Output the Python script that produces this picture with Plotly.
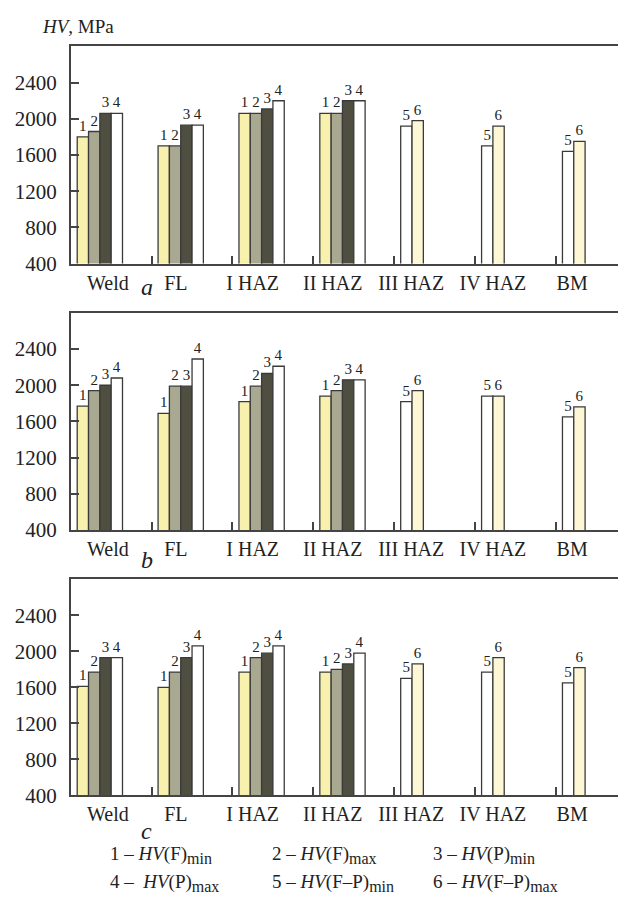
import plotly.graph_objects as go

CATEGORIES = ["Weld", "FL", "I HAZ", "II HAZ", "III HAZ", "IV HAZ", "BM"]
SERIES_NAMES = ["1", "2", "3", "4", "5", "6"]
N = None

# panel a
A1 = [1800, 1700, 2060, 2060, N, N, N]
A2 = [1860, 1700, 2060, 2060, N, N, N]
A3 = [2060, 1930, 2110, 2200, N, N, N]
A4 = [2060, 1930, 2200, 2200, N, N, N]
A5 = [N, N, N, N, 1920, 1700, 1640]
A6 = [N, N, N, N, 1980, 1920, 1750]
# panel b
B1 = [1770, 1690, 1820, 1880, N, N, N]
B2 = [1940, 1990, 1990, 1940, N, N, N]
B3 = [2000, 1990, 2130, 2060, N, N, N]
B4 = [2080, 2290, 2210, 2060, N, N, N]
B5 = [N, N, N, N, 1820, 1880, 1650]
B6 = [N, N, N, N, 1940, 1880, 1760]
# panel c
C1 = [1610, 1600, 1770, 1770, N, N, N]
C2 = [1770, 1770, 1930, 1800, N, N, N]
C3 = [1930, 1930, 1980, 1860, N, N, N]
C4 = [1930, 2060, 2060, 1980, N, N, N]
C5 = [N, N, N, N, 1700, 1770, 1650]
C6 = [N, N, N, N, 1860, 1930, 1820]

Y_TICKS = [400, 800, 1200, 1600, 2000, 2400]
PANELS = [("a", [A1, A2, A3, A4, A5, A6]),
          ("b", [B1, B2, B3, B4, B5, B6]),
          ("c", [C1, C2, C3, C4, C5, C6])]

COLORS = ["#F8F1AE", "#A9A991", "#4F4F41", "#FFFFFF", "#FFFFFF", "#FDF7D6"]
BAR_W = 0.14
OFFSETS = [-0.28, -0.14, 0.0, 0.14, -0.28, -0.14]
LABEL_POS = [0.1, 0.94, 1.89, 2.88, 3.85, 4.86, 5.84]

W, H = 626, 903
panel_px = [(39, 259), (309, 529), (579, 798)]
letter_y = [283, 559, 834]

fig = go.Figure()
serif = "Liberation Serif, Times New Roman, serif"

for p, (letter, series) in enumerate(PANELS):
    xa = "x" if p == 0 else f"x{p+1}"
    ya = "y" if p == 0 else f"y{p+1}"
    for s, vals in enumerate(series):
        xs = [i for i, v in enumerate(vals) if v is not None]
        ys = [v for v in vals if v is not None]
        fig.add_trace(go.Bar(
            x=xs, y=ys, xaxis=xa, yaxis=ya,
            width=BAR_W, offset=OFFSETS[s],
            marker=dict(color=COLORS[s], line=dict(color="#3a3a3a", width=1.3)),
            text=[SERIES_NAMES[s]] * len(ys),
            textposition="outside", cliponaxis=False, constraintext="none",
            textfont=dict(family=serif, size=15, color="#222"),
            showlegend=False, hoverinfo="skip",
        ))
    top, bot = panel_px[p]
    xname = "xaxis" if p == 0 else f"xaxis{p+1}"
    yname = "yaxis" if p == 0 else f"yaxis{p+1}"
    fig.layout[xname] = dict(
        domain=[63 / W, 625 / W], range=[-0.358, 6.58], anchor=ya,
        tickmode="array", tickvals=LABEL_POS, ticktext=CATEGORIES,
        ticks="", showgrid=False, zeroline=False,
        showline=True, mirror=True, linecolor="#444", linewidth=2,
        tickfont=dict(family=serif, size=20, color="#222"),
        minor=dict(ticks="inside", tickmode="linear", tick0=-0.36, dtick=1,
                   ticklen=8, tickwidth=2, tickcolor="#444", showgrid=False),
    )
    fig.layout[yname] = dict(
        domain=[1 - bot / H, 1 - top / H], range=[400, 2800], anchor=xa,
        tickmode="array", tickvals=Y_TICKS,
        ticks="inside", ticklen=8, tickwidth=1.5, tickcolor="#444",
        showgrid=False, zeroline=False,
        showline=True, mirror=True, linecolor="#444", linewidth=2,
        tickfont=dict(family=serif, size=21, color="#222"),
        ticklabelstandoff=8,
    )
    fig.add_annotation(text=f"<i>{letter}</i>", x=139 / W, y=1 - letter_y[p] / H,
                       xref="paper", yref="paper", showarrow=False,
                       font=dict(family=serif, size=24, color="#222"),
                       xanchor="center", yanchor="middle")

fig.add_annotation(text="<i>HV</i>, MPa", x=32 / W, y=1 - 19 / H,
                   xref="paper", yref="paper", showarrow=False,
                   font=dict(family=serif, size=19, color="#222"),
                   xanchor="left", yanchor="middle")


def sub(t):
    return f'<sub><span style="font-size:16px">{t}</span></sub>'


LEGEND = [
    "1 – <i>HV</i>(F)" + sub("min"), "2 – <i>HV</i>(F)" + sub("max"), "3 – <i>HV</i>(P)" + sub("min"),
    "4 –  <i>HV</i>(P)" + sub("max"), "5 – <i>HV</i>(F–P)" + sub("min"), "6 – <i>HV</i>(F–P)" + sub("max"),
]
leg_x = [100, 262, 424]
leg_y = [858, 887]
for i, t in enumerate(LEGEND):
    fig.add_annotation(text=t, x=leg_x[i % 3] / W, y=1 - leg_y[i // 3] / H,
                       xref="paper", yref="paper", showarrow=False,
                       font=dict(family=serif, size=19, color="#222"),
                       xanchor="left", yanchor="middle")

fig.update_layout(
    width=W, height=H, barmode="overlay",
    margin=dict(l=0, r=0, t=0, b=0),
    paper_bgcolor="white", plot_bgcolor="white",
)
fig.write_html("out.html")
